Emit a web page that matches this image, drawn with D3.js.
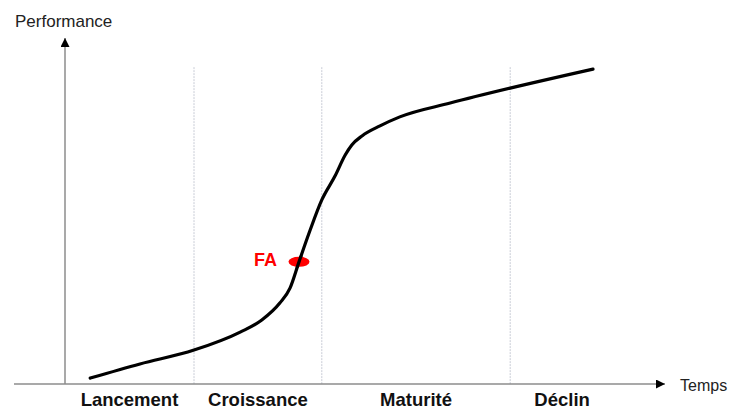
<!DOCTYPE html>
<html>
<head>
<meta charset="utf-8">
<script src="https://cdn.jsdelivr.net/npm/d3@7"></script>
<style>
  html, body { margin: 0; padding: 0; background: #fff; }
  svg { display: block; font-family: "Liberation Sans", Arial, sans-serif; }
</style>
</head>
<body>
<svg id="chart" width="731" height="412"></svg>
<script>
// ---- Data ----
const curveTime = [0.42, 1.25, 2.15, 2.92, 3.28, 3.58, 3.75, 3.90, 4.08, 4.28, 4.50, 4.67, 4.78, 4.95, 5.25, 5.58, 6.42, 7.42, 8.80];
const curvePerf = [0.17, 0.58, 0.98, 1.50, 1.85, 2.34, 2.77, 3.53, 4.42, 5.32, 6.01, 6.62, 6.91, 7.17, 7.46, 7.72, 8.12, 8.55, 9.10];
const phaseNames = ["Lancement", "Croissance", "Maturité", "Déclin"];
const phaseStart = [0, 2.15, 4.28, 7.42];
const phaseEnd   = [2.15, 4.28, 7.42, 9.15];
const faPoint = { label: "FA", time: 3.90, perf: 3.53 };
const axisLabels = { y: "Performance", x: "Temps" };

// ---- Scales ----
const svg = d3.select("#chart");
const x = d3.scaleLinear().domain([0, 10]).range([65, 665]);
const y = d3.scaleLinear().domain([0, 10]).range([384, 38]);
const xAxisStart = 14;

const defs = svg.append("defs");
defs.append("marker").attr("id", "arr")
  .attr("viewBox", "0 0 10 10").attr("refX", 10).attr("refY", 5)
  .attr("markerWidth", 9).attr("markerHeight", 9).attr("markerUnits", "userSpaceOnUse")
  .attr("orient", "auto")
  .append("path").attr("d", "M0,0 L10,5 L0,10 Z").attr("fill", "#000");

// Phase separators (dotted light lines)
svg.append("g").selectAll("line")
  .data(phaseStart.slice(1))
  .join("line")
  .attr("x1", d => x(d)).attr("x2", d => x(d))
  .attr("y1", y(9.1) - 2).attr("y2", y(0))
  .attr("stroke", "#c9ccd6").attr("stroke-width", 1)
  .attr("stroke-dasharray", "2,1");

// Axes
svg.append("line")
  .attr("x1", xAxisStart).attr("x2", x(10))
  .attr("y1", y(0)).attr("y2", y(0))
  .attr("stroke", "#8c8c8c").attr("stroke-width", 1.5)
  .attr("marker-end", "url(#arr)");
svg.append("line")
  .attr("x1", x(0)).attr("x2", x(0))
  .attr("y1", y(0)).attr("y2", y(10))
  .attr("stroke", "#8c8c8c").attr("stroke-width", 1.5)
  .attr("marker-end", "url(#arr)");

// Axis labels
svg.append("text").text(axisLabels.y)
  .attr("x", 15).attr("y", 27)
  .attr("font-size", 17).attr("fill", "#222");
svg.append("text").text(axisLabels.x)
  .attr("x", 680).attr("y", 391)
  .attr("font-size", 16).attr("fill", "#222");

// Curve
const pts = curveTime.map((t, i) => [t, curvePerf[i]]);
const line = d3.line().x(d => x(d[0])).y(d => y(d[1])).curve(d3.curveMonotoneX);
svg.append("path").datum(pts)
  .attr("d", line)
  .attr("fill", "none").attr("stroke", "#000").attr("stroke-width", 3.2)
  .attr("stroke-linecap", "round");

// FA marker
defs.append("clipPath").attr("id", "faClip")
  .append("ellipse")
  .attr("cx", x(faPoint.time)).attr("cy", y(faPoint.perf))
  .attr("rx", 11).attr("ry", 6);
svg.append("ellipse")
  .attr("cx", x(faPoint.time)).attr("cy", y(faPoint.perf))
  .attr("rx", 10.5).attr("ry", 5)
  .attr("fill", "#ff0000");
svg.append("path").datum(pts)
  .attr("d", line)
  .attr("fill", "none").attr("stroke", "#000").attr("stroke-width", 3.2)
  .attr("clip-path", "url(#faClip)");
svg.append("text").text(faPoint.label)
  .attr("x", x(faPoint.time) - 22).attr("y", y(faPoint.perf) + 4)
  .attr("text-anchor", "end")
  .attr("font-size", 18).attr("font-weight", "bold").attr("fill", "#ff0000");

// Phase labels
svg.append("g").selectAll("text")
  .data(phaseNames)
  .join("text")
  .text(d => d)
  .attr("x", (d, i) => (x(phaseStart[i]) + x(phaseEnd[i])) / 2)
  .attr("y", 406)
  .attr("text-anchor", "middle")
  .attr("font-size", 18.5).attr("font-weight", "bold").attr("fill", "#111");
</script>
</body>
</html>
